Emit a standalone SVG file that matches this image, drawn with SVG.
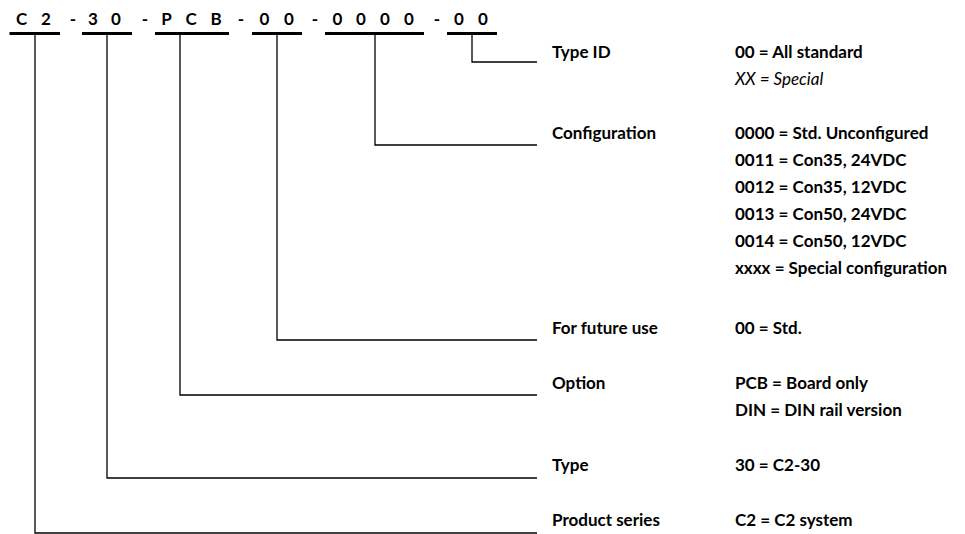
<svg xmlns="http://www.w3.org/2000/svg" width="965" height="534" viewBox="0 0 965 534">
<style>
text{font-family:"Lato","Open Sans","Liberation Sans",sans-serif;font-size:17px;font-weight:bold;fill:#000}
.it{font-style:italic;font-weight:normal}
.code{font-size:17px;text-anchor:middle}
.bar{stroke:#000;stroke-width:3;fill:none}
.ln{stroke:#000;stroke-width:1.3;fill:none}
</style>
<rect width="965" height="534" fill="#fff"/>
<g id="code">
<text class="code" x="21.5" y="25">C</text><text class="code" x="46" y="25">2</text>
<text class="code" x="73" y="25">-</text>
<text class="code" x="93" y="25">3</text><text class="code" x="116" y="25">0</text>
<text class="code" x="145" y="25">-</text>
<text class="code" x="166.5" y="25">P</text><text class="code" x="191" y="25">C</text><text class="code" x="216" y="25">B</text>
<text class="code" x="241" y="25">-</text>
<text class="code" x="264.5" y="25">0</text><text class="code" x="289" y="25">0</text>
<text class="code" x="315" y="25">-</text>
<text class="code" x="337.5" y="25">0</text><text class="code" x="361" y="25">0</text><text class="code" x="385" y="25">0</text><text class="code" x="409" y="25">0</text>
<text class="code" x="437" y="25">-</text>
<text class="code" x="459" y="25">0</text><text class="code" x="483" y="25">0</text>
<path class="bar" d="M9.5 33.5H60M82 33.5H132M155 33.5H229M252 33.5H302M325 33.5H424M447 33.5H497"/>
</g>
<g id="connectors">
<path class="ln" d="M472 33.5V62H537"/>
<path class="ln" d="M375 33.5V145H537"/>
<path class="ln" d="M277 33.5V340H537"/>
<path class="ln" d="M180 33.5V395H537"/>
<path class="ln" d="M107 33.5V478H537"/>
<path class="ln" d="M35 33.5V533H537"/>
</g>
<g id="type-id"><text x="552" y="58">Type ID</text><text x="735" y="58">00 = All standard</text><text class="it" x="735" y="85">XX = Special</text></g>
<g id="configuration"><text x="552" y="139">Configuration</text>
<text x="735" y="139">0000 = Std. Unconfigured</text>
<text x="735" y="166">0011 = Con35, 24VDC</text>
<text x="735" y="193">0012 = Con35, 12VDC</text>
<text x="735" y="220">0013 = Con50, 24VDC</text>
<text x="735" y="247">0014 = Con50, 12VDC</text>
<text x="735" y="274">xxxx = Special configuration</text></g>
<g id="future"><text x="552" y="334">For future use</text><text x="735" y="334">00 = Std.</text></g>
<g id="option"><text x="552" y="389">Option</text><text x="735" y="389">PCB = Board only</text><text x="735" y="416">DIN = DIN rail version</text></g>
<g id="type"><text x="552" y="471">Type</text><text x="735" y="471">30 = C2-30</text></g>
<g id="series"><text x="552" y="526">Product series</text><text x="735" y="526">C2 = C2 system</text></g>
</svg>
